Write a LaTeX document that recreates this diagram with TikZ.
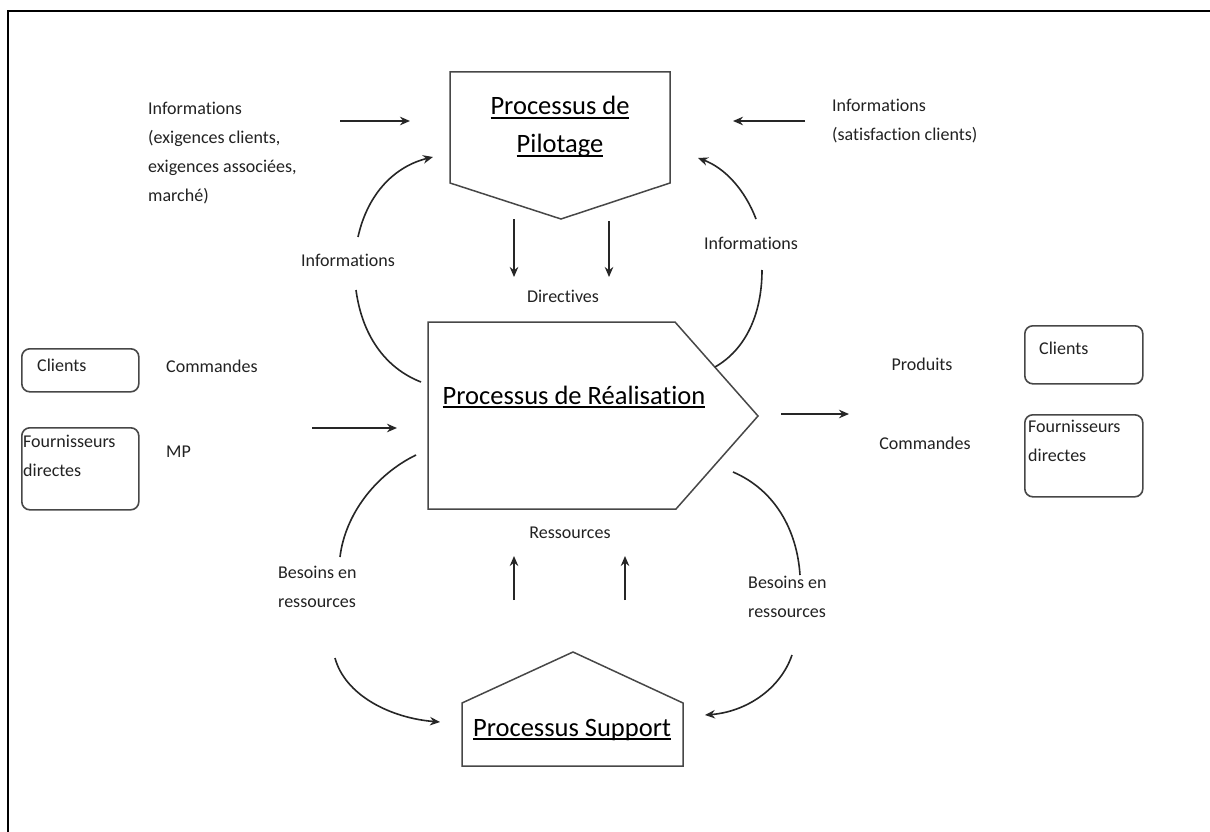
\documentclass[tikz,border=0pt]{standalone}
\usepackage{fontspec}
\setmainfont{Carlito}[Ligatures={NoCommon}]
\usetikzlibrary{arrows.meta}

% underlined heading text with a fixed rule offset below the baseline
\newcommand\ulhead[1]{\setbox0\hbox{#1}\rlap{\rule[-4pt]{\wd0}{1.6pt}}\box0}

\definecolor{ink}{HTML}{262626}
\definecolor{edge}{HTML}{474747}
\definecolor{txt}{HTML}{222222}

\begin{document}
\begin{tikzpicture}[x=1pt,y=-1pt,
  small/.style={font=\fontsize{18}{29}\selectfont, text=txt, inner sep=0pt, align=left},
  big/.style={font=\fontsize{26.5}{38}\selectfont, text=black, inner sep=0pt},
  proc/.style={draw=edge, line width=1.5pt, line join=miter},
  rbox/.style={draw=edge, rounded corners=8pt, line width=1.6pt, inner sep=0pt, anchor=north west},
  flow/.style={draw=ink, line width=1.6pt, -{Stealth[length=10pt,width=8.5pt]}},
  ring/.style={draw=ink, line width=1.6pt},
  ringarrow/.style={ring, -{Stealth[length=10pt,width=8.5pt]}}
]
\useasboundingbox (0,0) rectangle (1210,832);
\fill[white] (0,0) rectangle (1210,832);

% outer frame (left and top edges)
\draw[black, line width=2.6pt] (8,832) -- (8,11) -- (1210,11);

% ---- process shapes ----
\draw[proc] (450,72) -- (670,72) -- (670,183) -- (561,219) -- (450,183) -- cycle;
\draw[proc] (428,322) -- (675,322) -- (758,416) -- (676,509) -- (428,509) -- cycle;
\draw[proc] (462,703) -- (573,652) -- (683,703) -- (683,766) -- (462,766) -- cycle;

\node[big, anchor=base] (pilot1) at (560,115) {\ulhead{Processus de}};
\node[big, anchor=base] (pilot2) at (560,153) {\ulhead{Pilotage}};
\node[big, anchor=base] (real) at (574,404) {\ulhead{Processus de Réalisation}};
\node[big, anchor=base] (supp) at (572,736) {\ulhead{Processus Support}};

% ---- anchor points of the connectors ----
\coordinate (pilotW) at (410,121);
\coordinate (pilotE) at (733,121);
\coordinate (pilotSW) at (433,157);
\coordinate (pilotSE) at (698,158);
\coordinate (pilotB1) at (514,219);
\coordinate (pilotB2) at (609,221);
\coordinate (realT1) at (514,277);
\coordinate (realT2) at (609,277);
\coordinate (realW) at (397,428);
\coordinate (realE) at (781,414);
\coordinate (realNW) at (421,382);
\coordinate (realNE) at (715,367);
\coordinate (realSW) at (416,455);
\coordinate (realSE) at (733,472);
\coordinate (suppT1) at (514,600);
\coordinate (suppT2) at (625,600);
\coordinate (realB1) at (514,556);
\coordinate (realB2) at (625,556);
\coordinate (suppW) at (440,722);
\coordinate (suppE) at (705,715);

% ---- text labels ----
\node[small, anchor=north west] (infoL) at (148,102)
  {Informations\\(exigences clients,\\exigences associées,\\marché)};
\node[small, anchor=north west] (infoR) at (832,99)
  {Informations\\(satisfaction clients)};
\node[small] (infoUL) at (348,260) {Informations};
\node[small] (infoUR) at (751,243) {Informations};
\node[small] (direct) at (563,296) {Directives};
\node[small] (ress) at (570,533) {Ressources};
\node[small, anchor=north west] (besL) at (278,566) {Besoins en\\ressources};
\node[small, anchor=north west] (besR) at (748,576) {Besoins en\\ressources};
\node[small, anchor=west] (cmdL) at (166,366) {Commandes};
\node[small, anchor=west] (mp) at (166,452) {MP};
\node[small] (prod) at (922,364) {Produits};
\node[small] (cmdR) at (925,443) {Commandes};

% ---- external partners ----
\node[rbox, minimum width=117pt, minimum height=43pt] (cliL) at (21,348) {};
\node[small, anchor=west] (cliLt) at (37,365) {Clients};
\node[rbox, minimum width=117pt, minimum height=82pt] (fouL) at (21,427) {};
\node[small, anchor=north west] (fouLt) at (23,435) {Fournisseurs\\directes};
\node[rbox, minimum width=118pt, minimum height=58pt] (cliR) at (1024,325) {};
\node[small, anchor=west] (cliRt) at (1039,348) {Clients};
\node[rbox, minimum width=118pt, minimum height=82pt] (fouR) at (1024,414) {};
\node[small, anchor=north west] (fouRt) at (1028,420) {Fournisseurs\\directes};

% ---- straight flows ----
\coordinate (infoLend) at (340,121);
\coordinate (infoRend) at (805,121);
\coordinate (inStart) at (312,428);
\coordinate (outEnd) at (849,414);
\draw[flow] (infoLend) -- (pilotW);
\draw[flow] (infoRend) -- (pilotE);
\draw[flow] (pilotB1) -- (realT1);
\draw[flow] (pilotB2) -- (realT2);
\draw[flow] (inStart) -- (realW);
\draw[flow] (realE) -- (outEnd);
\draw[flow] (suppT1) -- (realB1);
\draw[flow] (suppT2) -- (realB2);

% ---- feedback arcs ----
\coordinate (arcUL) at (358,237);
\coordinate (arcLL) at (356,290);
\coordinate (arcUR) at (756,219);
\coordinate (arcLR) at (762,270);
\coordinate (arcBL1) at (340,557);
\coordinate (arcBL2) at (335,658);
\coordinate (arcBR1) at (800,575);
\coordinate (arcBR2) at (792,655);

\draw[ringarrow] (arcUL) .. controls (368,192) and (396,166) .. (pilotSW);
\draw[ring] (arcLL) .. controls (362,335) and (385,368) .. (realNW);
\draw[ringarrow] (arcUR) .. controls (745,190) and (725,168) .. (pilotSE);
\draw[ring] (arcLR) .. controls (762,315) and (745,350) .. (realNE);
\draw[ring] (realSW) .. controls (375,475) and (345,515) .. (arcBL1);
\draw[ringarrow] (arcBL2) .. controls (345,695) and (390,718) .. (suppW);
\draw[ring] (realSE) .. controls (775,490) and (797,530) .. (arcBR1);
\draw[ringarrow] (arcBR2) .. controls (780,690) and (745,712) .. (suppE);
\end{tikzpicture}
\end{document}
